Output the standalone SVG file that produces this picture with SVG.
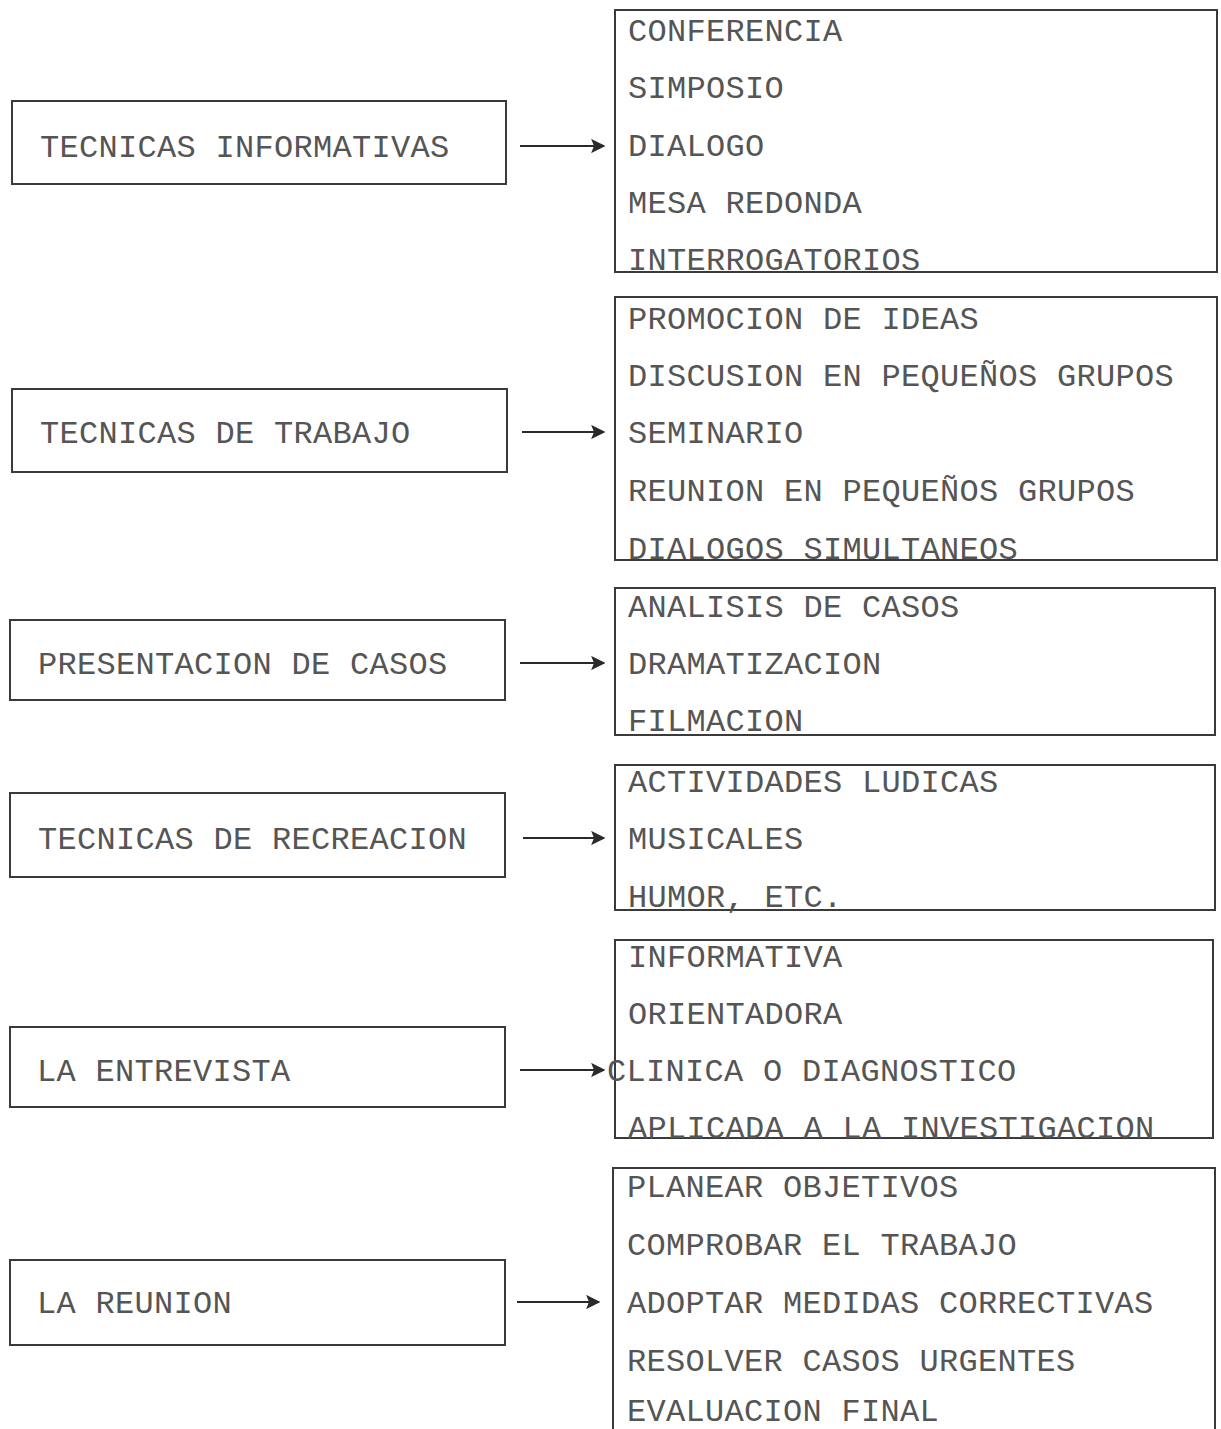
<svg xmlns="http://www.w3.org/2000/svg" width="1221" height="1429" viewBox="0 0 1221 1429">
<style>
.bx{fill:none;stroke:#3a3a3a;stroke-width:2}
.t{font-family:"Liberation Mono","DejaVu Sans Mono",monospace;font-size:32px;fill:#555555;letter-spacing:0.3px}
.c{stroke:#2a2a2a;stroke-width:2.2;fill:none}
</style>
<defs>
<marker id="ah" viewBox="0 0 10 10" refX="9" refY="5" markerWidth="6.5" markerHeight="6.5" orient="auto" markerUnits="strokeWidth">
<path d="M0,0 L10,5 L0,10 L2,5 z" fill="#2a2a2a"/>
</marker>
</defs>
<rect width="1221" height="1429" fill="#ffffff"/>

<g id="n1">
<rect class="bx" x="12" y="101" width="494" height="83"/>
<text class="t" x="40" y="157">TECNICAS INFORMATIVAS</text>
</g>
<g id="r1">
<rect class="bx" x="615" y="10" width="602" height="262"/>
<text class="t" x="628" y="41">CONFERENCIA</text>
<text class="t" x="628" y="98">SIMPOSIO</text>
<text class="t" x="628" y="156">DIALOGO</text>
<text class="t" x="628" y="213">MESA REDONDA</text>
<text class="t" x="628" y="270">INTERROGATORIOS</text>
</g>

<g id="n2">
<rect class="bx" x="12" y="389" width="495" height="83"/>
<text class="t" x="40" y="443">TECNICAS DE TRABAJO</text>
</g>
<g id="r2">
<rect class="bx" x="615" y="297" width="602" height="263"/>
<text class="t" x="628" y="329">PROMOCION DE IDEAS</text>
<text class="t" x="628" y="386">DISCUSION EN PEQUEÑOS GRUPOS</text>
<text class="t" x="628" y="443">SEMINARIO</text>
<text class="t" x="628" y="501">REUNION EN PEQUEÑOS GRUPOS</text>
<text class="t" x="628" y="559">DIALOGOS SIMULTANEOS</text>
</g>

<g id="n3">
<rect class="bx" x="10" y="620" width="495" height="80"/>
<text class="t" x="38" y="674">PRESENTACION DE CASOS</text>
</g>
<g id="r3">
<rect class="bx" x="615" y="588" width="600" height="147"/>
<text class="t" x="628" y="617">ANALISIS DE CASOS</text>
<text class="t" x="628" y="674">DRAMATIZACION</text>
<text class="t" x="628" y="731">FILMACION</text>
</g>

<g id="n4">
<rect class="bx" x="10" y="793" width="495" height="84"/>
<text class="t" x="38" y="849">TECNICAS DE RECREACION</text>
</g>
<g id="r4">
<rect class="bx" x="615" y="765" width="600" height="145"/>
<text class="t" x="628" y="792">ACTIVIDADES LUDICAS</text>
<text class="t" x="628" y="849">MUSICALES</text>
<text class="t" x="628" y="907">HUMOR, ETC.</text>
</g>

<g id="n5">
<rect class="bx" x="10" y="1027" width="495" height="80"/>
<text class="t" x="37" y="1081">LA ENTREVISTA</text>
</g>
<g id="r5">
<rect class="bx" x="615" y="940" width="598" height="198"/>
<text class="t" x="628" y="967">INFORMATIVA</text>
<text class="t" x="628" y="1024">ORIENTADORA</text>
<text class="t" x="607" y="1081">CLINICA O DIAGNOSTICO</text>
<text class="t" x="628" y="1138">APLICADA A LA INVESTIGACION</text>
</g>

<g id="n6">
<rect class="bx" x="10" y="1260" width="495" height="85"/>
<text class="t" x="37" y="1313">LA REUNION</text>
</g>
<g id="r6">
<rect class="bx" x="613" y="1168" width="602" height="270"/>
<text class="t" x="627" y="1197">PLANEAR OBJETIVOS</text>
<text class="t" x="627" y="1255">COMPROBAR EL TRABAJO</text>
<text class="t" x="627" y="1313">ADOPTAR MEDIDAS CORRECTIVAS</text>
<text class="t" x="627" y="1371">RESOLVER CASOS URGENTES</text>
<text class="t" x="627" y="1421">EVALUACION FINAL</text>
</g>

<g id="connectors">
<line class="c" x1="520" y1="146" x2="604" y2="146" marker-end="url(#ah)"/>
<line class="c" x1="522" y1="432" x2="604" y2="432" marker-end="url(#ah)"/>
<line class="c" x1="520" y1="663" x2="604" y2="663" marker-end="url(#ah)"/>
<line class="c" x1="523" y1="838" x2="604" y2="838" marker-end="url(#ah)"/>
<line class="c" x1="520" y1="1070" x2="604" y2="1070" marker-end="url(#ah)"/>
<line class="c" x1="517" y1="1302" x2="599" y2="1302" marker-end="url(#ah)"/>
</g>
</svg>
